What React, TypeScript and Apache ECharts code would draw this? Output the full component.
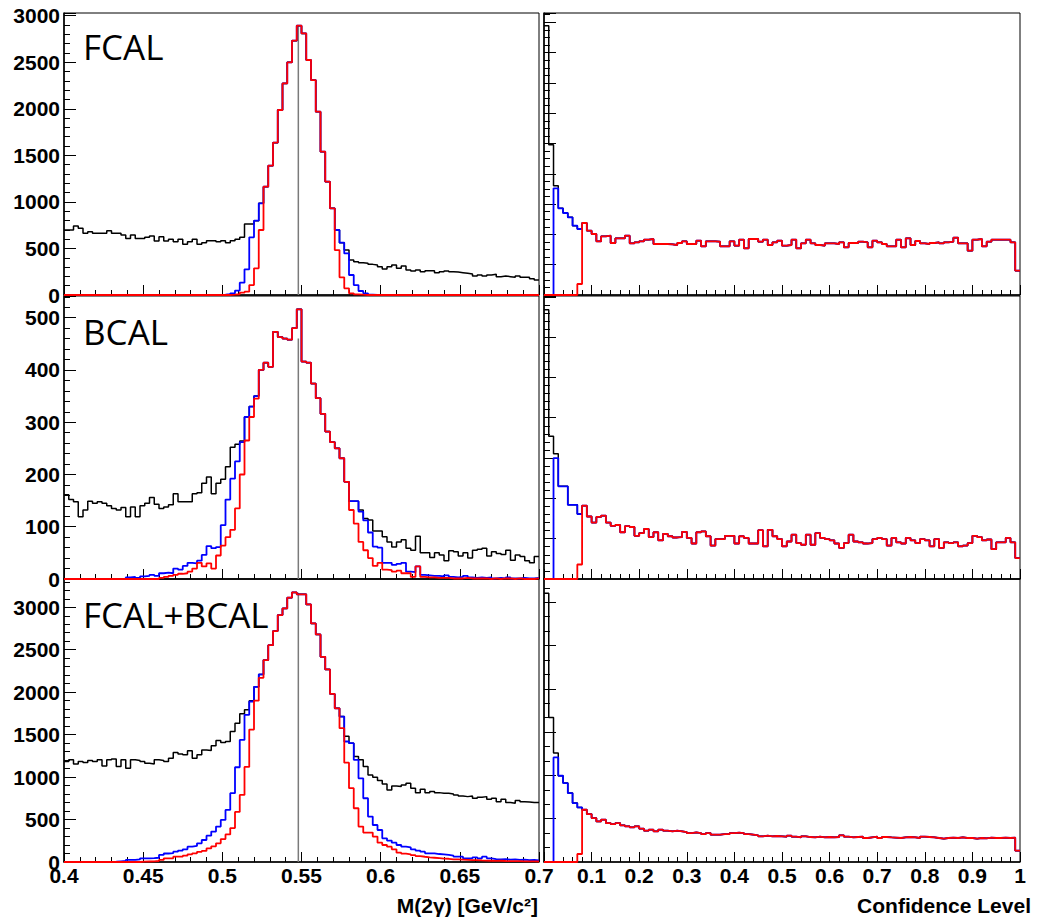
import { useEffect, useRef } from "react";
import * as echarts from "echarts";

// ---------------- binning ----------------
const massMin = 0.4;
const massMax = 0.7;
const massBinWidth = 0.003;
const clMin = 0;
const clMax = 1;
const clBinWidth = 0.01;
const etaMass = 0.548;

// ---------------- M(2γ) histograms (100 bins, 0.4–0.7) ----------------
const fcalMassBlack = [
  698, 698, 741, 716, 662, 680, 662, 662, 662, 691,
  662, 662, 644, 608, 644, 608, 608, 620, 633, 580,
  626, 580, 598, 573, 598, 544, 573, 598, 544, 562,
  583, 583, 573, 583, 562, 583, 598, 619, 762, 762,
  798, 985, 1163, 1389, 1636, 1987, 2273, 2499, 2732, 2893,
  2810, 2524, 2309, 1969, 1539, 1217, 931, 698, 562, 483,
  376, 358, 347, 340, 329, 322, 304, 279, 304, 322,
  286, 311, 268, 258, 268, 250, 261, 261, 240, 250,
  258, 250, 247, 240, 233, 226, 204, 215, 204, 215,
  222, 197, 204, 197, 190, 204, 190, 190, 175, 161,
];
const fcalMassBlue = [
  0, 0, 0, 0, 0, 0, 0, 0, 0, 0,
  0, 0, 0, 0, 0, 0, 0, 0, 0, 0,
  0, 0, 0, 0, 0, 0, 0, 0, 0, 0,
  0, 0, 0, 3, 8, 18, 47, 132, 276, 620,
  798, 985, 1163, 1389, 1636, 1987, 2273, 2499, 2732, 2893,
  2810, 2524, 2309, 1969, 1539, 1217, 931, 698, 562, 447,
  215, 107, 43, 18, 5, 2, 0, 0, 0, 0,
  0, 0, 0, 0, 0, 0, 0, 0, 0, 0,
  0, 0, 0, 0, 0, 0, 0, 0, 0, 0,
  0, 0, 0, 0, 0, 0, 0, 0, 0, 0,
];
const fcalMassRed = [
  0, 0, 0, 0, 0, 0, 0, 0, 0, 0,
  0, 0, 0, 0, 0, 0, 0, 0, 0, 0,
  0, 0, 0, 0, 0, 0, 0, 0, 0, 0,
  0, 0, 0, 0, 0, 3, 8, 25, 36, 107,
  286, 698, 1163, 1389, 1636, 1987, 2273, 2499, 2732, 2893,
  2810, 2524, 2309, 1969, 1539, 1217, 931, 483, 190, 72,
  18, 7, 3, 0, 0, 0, 0, 0, 0, 0,
  0, 0, 0, 0, 0, 0, 0, 0, 0, 0,
  0, 0, 0, 0, 0, 0, 0, 0, 0, 0,
  0, 0, 0, 0, 0, 0, 0, 0, 0, 0,
];

const bcalMassBlack = [
  161, 152, 148, 119, 132, 149, 145, 148, 145, 140,
  135, 132, 137, 119, 138, 119, 140, 145, 156, 143,
  135, 138, 142, 163, 148, 148, 148, 163, 165, 183,
  195, 163, 183, 191, 215, 252, 258, 264, 310, 330,
  350, 400, 414, 406, 473, 463, 460, 458, 480, 516,
  416, 414, 374, 346, 316, 282, 262, 250, 231, 186,
  149, 149, 132, 116, 113, 92, 92, 81, 71, 61,
  71, 75, 59, 55, 82, 50, 50, 41, 50, 46,
  35, 54, 52, 44, 50, 40, 55, 57, 59, 44,
  52, 49, 47, 55, 36, 46, 43, 35, 31, 43,
];
const bcalMassBlue = [
  0, 0, 0, 0, 0, 0, 0, 0, 0, 0,
  0, 0, 0, 3, 4, 2, 5, 6, 8, 6,
  11, 12, 11, 20, 18, 25, 31, 30, 35, 46,
  63, 59, 61, 103, 152, 192, 225, 262, 310, 330,
  350, 400, 414, 406, 473, 463, 460, 458, 480, 516,
  416, 414, 374, 346, 316, 282, 262, 250, 231, 186,
  149, 149, 129, 112, 89, 62, 60, 31, 31, 27,
  29, 31, 14, 13, 24, 8, 7, 6, 6, 5,
  7, 4, 3, 4, 6, 3, 2, 3, 2, 3,
  1, 2, 1, 3, 1, 1, 2, 1, 1, 2,
];
const bcalMassRed = [
  0, 0, 0, 0, 0, 0, 0, 0, 0, 0,
  0, 0, 0, 0, 0, 0, 0, 0, 0, 0,
  2, 4, 6, 8, 10, 11, 14, 20, 31, 24,
  30, 20, 45, 64, 80, 94, 135, 200, 265, 310,
  345, 400, 414, 406, 473, 463, 460, 458, 480, 516,
  416, 414, 374, 346, 316, 282, 262, 250, 231, 186,
  132, 106, 71, 55, 40, 25, 31, 18, 17, 14,
  16, 11, 11, 4, 24, 4, 3, 3, 2, 2,
  2, 1, 1, 1, 2, 1, 1, 1, 1, 0,
  1, 0, 1, 1, 0, 1, 0, 0, 0, 1,
];

const bothMassBlack = [
  1183, 1203, 1155, 1183, 1171, 1195, 1183, 1203, 1132, 1203,
  1214, 1124, 1203, 1104, 1203, 1195, 1183, 1163, 1155, 1203,
  1195, 1183, 1222, 1289, 1273, 1262, 1309, 1222, 1262, 1320,
  1312, 1368, 1430, 1407, 1419, 1537, 1635, 1745, 1792, 1900,
  2063, 2209, 2378, 2554, 2720, 2908, 2987, 3113, 3175, 3152,
  3152, 3034, 2810, 2680, 2417, 2268, 1980, 1810, 1713, 1480,
  1400, 1242, 1203, 1124, 1026, 998, 959, 920, 849, 896,
  888, 908, 927, 869, 817, 857, 817, 829, 817, 810,
  810, 802, 790, 778, 770, 778, 751, 763, 770, 739,
  751, 711, 739, 700, 692, 723, 711, 708, 700, 700,
];
const bothMassBlue = [
  0, 0, 0, 0, 0, 0, 0, 0, 0, 2,
  4, 8, 12, 24, 24, 30, 43, 43, 45, 50,
  83, 100, 104, 122, 134, 149, 181, 189, 220, 259,
  310, 358, 417, 495, 613, 810, 1116, 1438, 1733, 1890,
  2063, 2209, 2378, 2554, 2720, 2908, 2987, 3113, 3175, 3152,
  3152, 3034, 2810, 2680, 2417, 2268, 1980, 1810, 1713, 1419,
  1399, 1203, 986, 751, 535, 436, 377, 279, 252, 228,
  200, 181, 173, 149, 134, 122, 102, 102, 94, 90,
  83, 75, 63, 63, 43, 43, 55, 43, 63, 43,
  35, 30, 35, 28, 30, 25, 28, 22, 25, 20,
];
const bothMassRed = [
  0, 0, 0, 0, 0, 0, 0, 0, 0, 0,
  0, 0, 0, 0, 0, 0, 4, 6, 8, 12,
  24, 43, 43, 63, 63, 75, 90, 102, 120, 130,
  160, 185, 220, 270, 325, 400, 590, 790, 1120, 1560,
  1900, 2169, 2378, 2554, 2720, 2908, 2987, 3113, 3175, 3152,
  3152, 3034, 2810, 2680, 2417, 2268, 1980, 1810, 1576, 1170,
  869, 633, 417, 346, 346, 299, 228, 200, 181, 149,
  110, 98, 90, 80, 70, 62, 55, 50, 45, 40,
  38, 32, 30, 28, 25, 22, 22, 18, 16, 15,
  14, 15, 12, 11, 10, 10, 8, 8, 7, 6,
];

// ---------------- Confidence level histograms (100 bins, 0–1) ----------------
// first 8 bins differ per selection, bins 8..99 are shared by all three
const fcalClBlackHead = [8890, 4961, 3608, 2860, 2706, 2563, 2288, 2178];
const fcalClBlueHead = [0, 0, 3520, 2860, 2706, 2563, 2288, 2178];
const fcalClRedHead = [0, 0, 0, 0, 0, 0, 0, 363];
const fcalClShared = [
  2376, 2123, 2013, 1771, 1936, 1958, 1716, 1870, 1870, 1958,
  1705, 1738, 1771, 1826, 1848, 1683, 1683, 1683, 1672, 1650,
  1716, 1771, 1683, 1683, 1793, 1606, 1771, 1771, 1760, 1606,
  1606, 1771, 1628, 1826, 1540, 1848, 1848, 1760, 1826, 1650,
  1738, 1793, 1628, 1650, 1826, 1540, 1705, 1826, 1705, 1650,
  1628, 1705, 1705, 1683, 1738, 1573, 1716, 1716, 1760, 1738,
  1573, 1793, 1738, 1683, 1606, 1606, 1826, 1573, 1870, 1650,
  1782, 1705, 1683, 1716, 1738, 1705, 1738, 1760, 1892, 1705,
  1705, 1463, 1826, 1848, 1606, 1760, 1826, 1826, 1826, 1826,
  1738, 803,
];

const bcalClBlackHead = [668, 354, 311, 230, 230, 184, 184, 161];
const bcalClBlueHead = [0, 0, 300, 230, 230, 184, 184, 161];
const bcalClRedHead = [0, 0, 0, 0, 0, 0, 0, 36];
const bcalClShared = [
  182, 155, 140, 154, 157, 140, 132, 134, 116, 131,
  129, 107, 114, 124, 104, 116, 96, 112, 106, 103,
  104, 117, 102, 88, 116, 118, 106, 83, 99, 99,
  107, 107, 88, 106, 102, 88, 88, 121, 81, 122,
  106, 99, 81, 93, 110, 89, 85, 110, 85, 114,
  102, 99, 96, 88, 77, 89, 110, 93, 91, 88,
  89, 99, 102, 99, 83, 102, 91, 88, 102, 96,
  89, 99, 96, 81, 99, 77, 91, 89, 91, 81,
  83, 89, 107, 104, 96, 98, 74, 91, 91, 102,
  91, 52,
];

const bothClBlackHead = [6206, 3338, 2515, 1992, 1823, 1592, 1361, 1261];
const bothClBlueHead = [0, 0, 2415, 1992, 1823, 1592, 1361, 1261];
const bothClRedHead = [0, 0, 0, 0, 0, 0, 0, 185];
const bothClShared = [
  1207, 1107, 1015, 938, 977, 900, 877, 900, 846, 823,
  800, 823, 769, 723, 746, 708, 746, 723, 708, 723,
  708, 692, 669, 684, 669, 646, 669, 631, 631, 646,
  646, 669, 677, 669, 646, 631, 615, 592, 608, 592,
  600, 592, 584, 608, 585, 569, 592, 577, 569, 584,
  569, 577, 569, 577, 615, 584, 569, 577, 584, 554,
  569, 584, 554, 577, 569, 562, 554, 569, 577, 569,
  554, 584, 577, 569, 554, 538, 554, 562, 554, 569,
  554, 554, 538, 554, 546, 562, 554, 554, 562, 554,
  562, 261,
];

// height of the vertical η-mass marker in each mass panel
const etaLineTops = [2890, 460, 3170];
const panelTitles = ["FCAL", "BCAL", "FCAL+BCAL"];

// ---------------- layout ----------------
const LEFT_X = 64;
const LEFT_W = 475;
const RIGHT_X = 544;
const RIGHT_W = 476;
const rowsLayout = [
  { top: 13, height: 282, massYMax: 3029, massYInt: 500, clYMax: 9307, clYInt: 1000, clMinor: 4, titleY: 46 },
  { top: 296, height: 283, massYMax: 541.5, massYInt: 100, clYMax: 702, clYInt: 100, clMinor: 5, titleY: 331 },
  { top: 579, height: 283, massYMax: 3333, massYInt: 500, clYMax: 6536, clYInt: 1000, clMinor: 3, titleY: 614 },
];

const massSets = [
  [fcalMassBlack, fcalMassBlue, fcalMassRed],
  [bcalMassBlack, bcalMassBlue, bcalMassRed],
  [bothMassBlack, bothMassBlue, bothMassRed],
];
const clSets = [
  [fcalClBlackHead.concat(fcalClShared), fcalClBlueHead.concat(fcalClShared), fcalClRedHead.concat(fcalClShared)],
  [bcalClBlackHead.concat(bcalClShared), bcalClBlueHead.concat(bcalClShared), bcalClRedHead.concat(bcalClShared)],
  [bothClBlackHead.concat(bothClShared), bothClBlueHead.concat(bothClShared), bothClRedHead.concat(bothClShared)],
];

const COLORS = ["#000000", "#0000ff", "#ff0000"];
const WIDTHS = [1.5, 1.8, 1.8];
const FONT = "'Liberation Sans', Arial, Helvetica, sans-serif";

function stepPoints(values: number[], x0: number, w: number) {
  const pts: number[][] = values.map((v, i) => [x0 + i * w, v]);
  pts.push([x0 + values.length * w, values[values.length - 1]]);
  return pts;
}

export default function App() {
  const ref = useRef<HTMLDivElement>(null);

  useEffect(() => {
    const chart = echarts.init(ref.current!, null, { renderer: "svg" });

    const grid: any[] = [];
    const xAxis: any[] = [];
    const yAxis: any[] = [];
    const series: any[] = [];

    rowsLayout.forEach((row, r) => {
      for (let c = 0; c < 2; c++) {
        const gi = grid.length;
        grid.push({
          left: c === 0 ? LEFT_X : RIGHT_X,
          top: row.top,
          width: c === 0 ? LEFT_W : RIGHT_W,
          height: row.height,
          show: true,
          borderColor: "#000",
          borderWidth: 1,
          backgroundColor: "transparent",
          containLabel: false,
          outerBoundsMode: "none",
        });
        const isMass = c === 0;
        xAxis.push({
          gridIndex: gi,
          type: "value",
          min: isMass ? massMin : clMin,
          max: isMass ? massMax : clMax,
          interval: isMass ? 0.05 : 0.1,
          axisLine: { show: true, onZero: false, lineStyle: { color: "#000", width: 1.5 } },
          axisTick: { show: true, inside: true, length: 10, lineStyle: { color: "#000", width: 1 } },
          minorTick: { show: true, splitNumber: 5, length: 5, lineStyle: { color: "#000", width: 1 } },
          splitLine: { show: false },
          axisLabel: {
            show: r === 2,
            fontFamily: FONT,
            fontWeight: "bold",
            fontSize: 21,
            color: "#000",
            margin: 3,
            formatter: (v: number) => {
              if (!isMass && Math.abs(v) < 1e-9) return "";
              return String(Math.round(v * 100) / 100);
            },
          },
        });
        const yMax = isMass ? row.massYMax : row.clYMax;
        const yInt = isMass ? row.massYInt : row.clYInt;
        yAxis.push({
          gridIndex: gi,
          type: "value",
          min: 0,
          max: yMax,
          interval: yInt,
          axisLine: { show: true, lineStyle: { color: "#000", width: 1.5 } },
          axisTick: { show: true, inside: true, length: 12, lineStyle: { color: "#000", width: 1 } },
          minorTick: { show: true, splitNumber: isMass ? 5 : row.clMinor, length: 6, lineStyle: { color: "#000", width: 1 } },
          splitLine: { show: false },
          axisLabel: {
            show: isMass,
            fontFamily: FONT,
            fontWeight: "bold",
            fontSize: 21,
            color: "#000",
            margin: 4,
            formatter: (v: number) => (Math.abs(v % yInt) < 1e-6 ? String(Math.round(v)) : ""),
          },
        });

        if (isMass) {
          series.push({
            type: "line",
            xAxisIndex: gi,
            yAxisIndex: gi,
            data: [
              [etaMass, 0],
              [etaMass, etaLineTops[r]],
            ],
            showSymbol: false,
            lineStyle: { color: "#7a7a7a", width: 1.5 },
            silent: true,
            z: 1,
          });
        }
        const sets = isMass ? massSets[r] : clSets[r];
        sets.forEach((vals, k) => {
          series.push({
            type: "line",
            xAxisIndex: gi,
            yAxisIndex: gi,
            step: "end",
            data: stepPoints(vals, isMass ? massMin : clMin, isMass ? massBinWidth : clBinWidth),
            showSymbol: false,
            lineStyle: { color: COLORS[k], width: WIDTHS[k] },
            silent: true,
            z: 2 + k,
          });
        });
      }
    });

    const graphic: any[] = rowsLayout.map((row, r) => ({
      type: "text",
      left: undefined,
      x: 83,
      y: row.titleY,
      style: {
        text: panelTitles[r],
        fontFamily: "'Open Sans', 'Noto Sans', sans-serif",
        fontSize: 35,
        fontWeight: "normal",
        fill: "#000",
        textAlign: "left",
        textVerticalAlign: "middle",
        verticalAlign: "middle",
      },
      z: 10,
    }));
    graphic.push({
      type: "text",
      x: 538,
      y: 905,
      style: {
        text: "M(2γ) [GeV/c²]",
        fontFamily: FONT,
        fontWeight: "bold",
        fontSize: 21,
        fill: "#000",
        textAlign: "right",
        textVerticalAlign: "middle",
        verticalAlign: "middle",
      },
      z: 10,
    });
    graphic.push({
      type: "text",
      x: 1031,
      y: 905,
      style: {
        text: "Confidence Level",
        fontFamily: FONT,
        fontWeight: "bold",
        fontSize: 21,
        fill: "#000",
        textAlign: "right",
        textVerticalAlign: "middle",
        verticalAlign: "middle",
      },
      z: 10,
    });

    chart.setOption({
      animation: false,
      backgroundColor: "#ffffff",
      grid,
      xAxis,
      yAxis,
      series,
      graphic,
    });

    return () => chart.dispose();
  }, []);

  return (
    <div
      ref={ref}
      style={{ position: "absolute", left: 0, top: 0, width: 1037, height: 921, background: "#fff" }}
    />
  );
}
